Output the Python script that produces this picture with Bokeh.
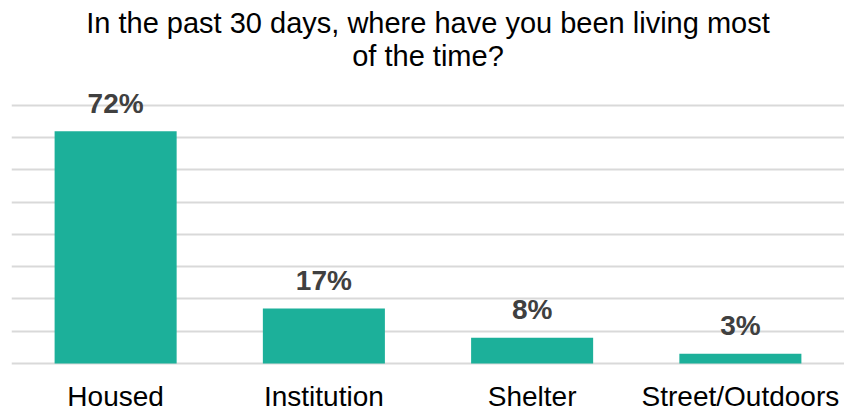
from bokeh.plotting import figure
from bokeh.models import ColumnDataSource, Range1d, FactorRange, Title, FixedTicker
from bokeh.core.properties import value
from bokeh.embed import file_html
from bokeh.resources import INLINE

categories = ["Housed", "Institution", "Shelter", "Street/Outdoors"]
percents = [72, 17, 8, 3]
labels = ["72%", "17%", "8%", "3%"]
grid_ticks = [0, 10, 20, 30, 40, 50, 60, 70, 80]
title_lines = ["In the past 30 days, where have you been living most", "of the time?"]

FONT = "Liberation Sans"

src = ColumnDataSource(dict(cat=categories, pct=percents, lab=labels))

p = figure(width=844, height=411, output_backend="svg", toolbar_location=None,
           x_range=FactorRange(*categories), y_range=Range1d(-14.9, 90.5),
           min_border_left=11, min_border_right=0, min_border_top=0, min_border_bottom=0)

# Titles (second line added first so it sits nearer the plot)
t2 = Title(text=title_lines[1], align="center", text_font=FONT, text_font_size="29px",
           text_font_style="normal", text_color="#000000", standoff=0, offset=0)
t1 = Title(text=title_lines[0], align="center", text_font=FONT, text_font_size="29px",
           text_font_style="normal", text_color="#000000", standoff=-2, offset=0)
spacer = Title(text=" ", align="center", text_font=FONT, text_font_size="3px",
               standoff=0, offset=0)
p.add_layout(t2, "above")
p.add_layout(t1, "above")
p.add_layout(spacer, "above")

p.vbar(x="cat", top="pct", bottom=0, width=0.586, source=src, color="#1cb09a", line_color=None)
p.text(x="cat", y="pct", text="lab", source=src, y_offset=-28,
       text_align="center", text_baseline="alphabetic",
       text_font=value(FONT), text_font_size="28px", text_font_style="bold",
       text_color="#404040")
# category labels under the baseline
p.text(x="cat", y=0, text="cat", source=src, y_offset=33,
       text_align="center", text_baseline="alphabetic",
       text_font=value(FONT), text_font_size="28px", text_font_style="normal",
       text_color="#000000")

p.xaxis.visible = False
p.yaxis.visible = False
p.ygrid.ticker = FixedTicker(ticks=grid_ticks)
p.ygrid.grid_line_color = "#d9d9d9"
p.ygrid.grid_line_width = 2
p.xgrid.visible = False

p.outline_line_color = None
p.background_fill_color = "white"
p.border_fill_color = "white"

open("out.html", "w").write(file_html(p, INLINE))
